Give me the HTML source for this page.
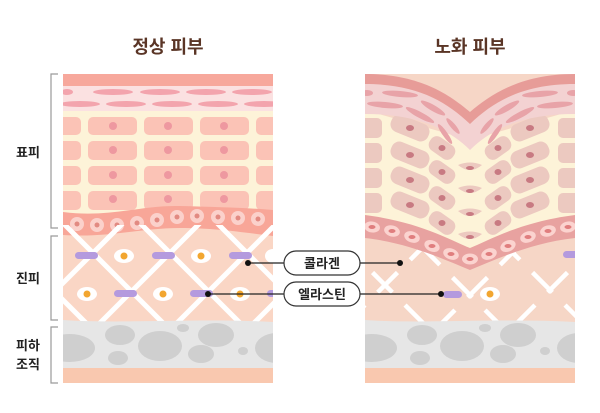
<!DOCTYPE html>
<html><head><meta charset="utf-8"><style>
html,body{margin:0;padding:0;background:#fff;width:600px;height:413px;overflow:hidden}
svg{display:block}
text{font-family:"Liberation Sans","Noto Sans CJK KR",sans-serif}
</style></head><body>
<svg width="600" height="413" viewBox="0 0 600 413" xmlns="http://www.w3.org/2000/svg">
<defs>
<clipPath id="cl"><rect x="63" y="74" width="210" height="309"/></clipPath>
<clipPath id="cr"><rect x="365" y="60" width="210" height="323"/></clipPath>
<clipPath id="dl"><rect x="63" y="225" width="210" height="97"/></clipPath>
<clipPath id="dr"><rect x="365" y="225" width="210" height="97"/></clipPath>
</defs>
<text x="168" y="53" font-size="18" font-weight="bold" fill="#5a3526" text-anchor="middle">정상 피부</text>
<text x="470" y="53" font-size="18" font-weight="bold" fill="#5a3526" text-anchor="middle">노화 피부</text>

<!-- brackets -->
<g stroke="#9a9a9a" stroke-width="1.2" fill="none">
<path d="M58 74 H51 V228 H58"/>
<path d="M58 236 H51 V320 H58"/>
<path d="M58 327 H51 V383 H58"/>
</g>
<g font-size="13" font-weight="bold" fill="#222">
<text x="16" y="157">표피</text>
<text x="16" y="283">진피</text>
<text x="16" y="350">피하</text>
<text x="16" y="369">조직</text>
</g>

<!-- LEFT PANEL -->
<g clip-path="url(#cl)">
<rect x="63" y="74" width="210" height="309" fill="#fad6c5"/>
<rect x="63" y="74" width="210" height="12" fill="#f7a89c"/>
<rect x="63" y="86" width="210" height="25" fill="#fbe1e1"/>
<g fill="#f3a4ad">
<ellipse cx="67" cy="92" rx="6" ry="3"/><ellipse cx="113" cy="92" rx="20" ry="3"/><ellipse cx="160" cy="92" rx="20" ry="3"/><ellipse cx="206" cy="92" rx="20" ry="3"/><ellipse cx="252" cy="92" rx="20" ry="3"/>
<ellipse cx="80" cy="104" rx="20" ry="3"/><ellipse cx="126" cy="104" rx="20" ry="3"/><ellipse cx="172" cy="104" rx="20" ry="3"/><ellipse cx="218" cy="104" rx="20" ry="3"/><ellipse cx="264" cy="104" rx="20" ry="3"/>
</g>
<rect x="63" y="111" width="210" height="115" fill="#fdf3d8"/>
<g fill="#fbc3b6">
<rect x="56" y="117" width="25" height="18" rx="5"/><rect x="88" y="117" width="49" height="18" rx="5"/><rect x="144" y="117" width="49" height="18" rx="5"/><rect x="200" y="117" width="49" height="18" rx="5"/><rect x="256" y="117" width="30" height="18" rx="5"/>
<rect x="56" y="141" width="25" height="19" rx="5"/><rect x="88" y="141" width="49" height="19" rx="5"/><rect x="144" y="141" width="49" height="19" rx="5"/><rect x="200" y="141" width="49" height="19" rx="5"/><rect x="256" y="141" width="30" height="19" rx="5"/>
<rect x="56" y="166" width="25" height="19" rx="5"/><rect x="88" y="166" width="49" height="19" rx="5"/><rect x="144" y="166" width="49" height="19" rx="5"/><rect x="200" y="166" width="49" height="19" rx="5"/><rect x="256" y="166" width="30" height="19" rx="5"/>
<rect x="56" y="191" width="25" height="19" rx="5"/><rect x="88" y="191" width="49" height="19" rx="5"/><rect x="144" y="191" width="49" height="19" rx="5"/><rect x="200" y="191" width="49" height="19" rx="5"/><rect x="256" y="191" width="30" height="19" rx="5"/>
</g>
<g fill="#ee98a0">
<circle cx="113" cy="126" r="4"/><circle cx="168" cy="126" r="4"/><circle cx="224" cy="126" r="4"/>
<circle cx="113" cy="150" r="4"/><circle cx="168" cy="150" r="4"/><circle cx="224" cy="150" r="4"/>
<circle cx="113" cy="175" r="4"/><circle cx="168" cy="175" r="4"/><circle cx="224" cy="175" r="4"/>
<circle cx="113" cy="199" r="4"/><circle cx="168" cy="199" r="4"/><circle cx="224" cy="199" r="4"/>
</g>
<!-- basal band -->
<path d="M63 212 C110 218 140 205 180 206 C220 207 250 208 273 210 L273 236 C240 232 215 228 180 228 C140 228 110 238 63 235 Z" fill="#f8a698"/>
<g fill="#fbd1cb">
<circle cx="77" cy="224" r="7"/><circle cx="97" cy="225" r="7"/><circle cx="117" cy="225" r="7"/><circle cx="137" cy="223" r="7"/><circle cx="157" cy="220" r="7"/><circle cx="177" cy="217" r="7"/><circle cx="197" cy="216" r="7"/><circle cx="218" cy="217" r="7"/><circle cx="238" cy="218" r="7"/><circle cx="258" cy="219" r="7"/>
</g>
<g fill="#e28a82">
<circle cx="77" cy="224" r="2.5"/><circle cx="97" cy="225" r="2.5"/><circle cx="117" cy="225" r="2.5"/><circle cx="137" cy="223" r="2.5"/><circle cx="157" cy="220" r="2.5"/><circle cx="177" cy="217" r="2.5"/><circle cx="197" cy="216" r="2.5"/><circle cx="218" cy="217" r="2.5"/><circle cx="238" cy="218" r="2.5"/><circle cx="258" cy="219" r="2.5"/>
</g>
<!-- dermis lattice -->
<g clip-path="url(#dl)" stroke="#fff" stroke-width="5">
<path d="M40 200 L190 350 M117 200 L267 350 M194 200 L344 350 M-37 200 L113 350"/>
<path d="M300 200 L150 350 M223 200 L73 350 M146 200 L-4 350 M377 200 L227 350"/>
</g>
<path d="M63 235 C110 238 140 228 180 228 C215 228 240 232 273 236 L273 240 L63 240 Z" fill="#f8a698" opacity="0"/>
<g fill="#b49ade">
<rect x="75" y="252" width="23" height="7" rx="3.5"/><rect x="152" y="252" width="23" height="7" rx="3.5"/><rect x="229" y="252" width="23" height="7" rx="3.5"/>
<rect x="114" y="290" width="23" height="7" rx="3.5"/><rect x="190" y="290" width="23" height="7" rx="3.5"/><rect x="267" y="290" width="23" height="7" rx="3.5"/>
</g>
<g fill="#fff">
<ellipse cx="124" cy="256" rx="10" ry="7"/><ellipse cx="201" cy="256" rx="10" ry="7"/><ellipse cx="273" cy="256" rx="8" ry="7"/>
<ellipse cx="87" cy="294" rx="10" ry="7"/><ellipse cx="163" cy="294" rx="10" ry="7"/><ellipse cx="240" cy="294" rx="10" ry="7"/>
</g>
<g fill="#f2a630">
<circle cx="124" cy="256" r="3.5"/><circle cx="201" cy="256" r="3.5"/>
<circle cx="87" cy="294" r="3.5"/><circle cx="163" cy="294" r="3.5"/><circle cx="240" cy="294" r="3.5"/>
</g>
<!-- subcut -->
<path d="M63 320 C120 324 200 318 273 322 L273 370 C200 366 120 372 63 370 Z" fill="#e6e6e6"/>
<g fill="#cfcfcf">
<ellipse cx="70" cy="348" rx="25" ry="14"/><ellipse cx="120" cy="335" rx="15" ry="10"/><ellipse cx="160" cy="346" rx="22" ry="15"/><ellipse cx="183" cy="328" rx="6" ry="4"/><ellipse cx="216" cy="335" rx="18" ry="12"/><ellipse cx="201" cy="354" rx="13" ry="9"/><ellipse cx="243" cy="351" rx="5" ry="4"/><ellipse cx="277" cy="348" rx="22" ry="15"/><ellipse cx="118" cy="358" rx="10" ry="7"/>
</g>
<rect x="63" y="368" width="210" height="15" fill="#f9c8af"/>
</g>

<!-- RIGHT PANEL -->
<g clip-path="url(#cr)">
<rect x="365" y="74" width="210" height="309" fill="#f6d6c6"/>
<!-- cream -->
<path d="M365 110 L470 140 L575 110 L575 230 L470 265 L365 230 Z" fill="#fdf3d8"/>
<!-- cells -->
<g fill="#ecc9c0">
<rect x="360" y="118" width="22" height="20" rx="5"/><rect x="360" y="143" width="22" height="20" rx="5"/><rect x="360" y="168" width="22" height="20" rx="5"/><rect x="360" y="193" width="22" height="20" rx="5"/>
<rect x="558" y="118" width="22" height="20" rx="5"/><rect x="558" y="143" width="22" height="20" rx="5"/><rect x="558" y="168" width="22" height="20" rx="5"/><rect x="558" y="193" width="22" height="20" rx="5"/>
<g transform="rotate(22 410 128)"><rect x="390" y="119" width="40" height="18" rx="8"/></g>
<g transform="rotate(22 410 155)"><rect x="390" y="146" width="40" height="18" rx="8"/></g>
<g transform="rotate(22 410 180)"><rect x="390" y="171" width="40" height="18" rx="8"/></g>
<g transform="rotate(22 410 205)"><rect x="390" y="196" width="40" height="18" rx="8"/></g>
<g transform="rotate(35 442 148)"><rect x="428" y="140" width="28" height="16" rx="7"/></g>
<g transform="rotate(35 442 172)"><rect x="428" y="164" width="28" height="16" rx="7"/></g>
<g transform="rotate(35 442 198)"><rect x="428" y="190" width="28" height="16" rx="7"/></g>
<g transform="rotate(35 442 223)"><rect x="428" y="215" width="28" height="16" rx="7"/></g>
<g transform="rotate(-22 530 128)"><rect x="510" y="119" width="40" height="18" rx="8"/></g>
<g transform="rotate(-22 530 155)"><rect x="510" y="146" width="40" height="18" rx="8"/></g>
<g transform="rotate(-22 530 180)"><rect x="510" y="171" width="40" height="18" rx="8"/></g>
<g transform="rotate(-22 530 205)"><rect x="510" y="196" width="40" height="18" rx="8"/></g>
<g transform="rotate(-35 498 148)"><rect x="484" y="140" width="28" height="16" rx="7"/></g>
<g transform="rotate(-35 498 172)"><rect x="484" y="164" width="28" height="16" rx="7"/></g>
<g transform="rotate(-35 498 198)"><rect x="484" y="190" width="28" height="16" rx="7"/></g>
<g transform="rotate(-35 498 223)"><rect x="484" y="215" width="28" height="16" rx="7"/></g>
<path d="M458 165 Q470 175 482 165 Q470 160 458 165Z"/><path d="M458 188 Q470 198 482 188 Q470 183 458 188Z"/><path d="M458 211 Q470 221 482 211 Q470 206 458 211Z"/><path d="M458 234 Q470 244 482 234 Q470 229 458 234Z"/>
</g>
<g fill="#c87a82">
<ellipse cx="410" cy="128" rx="4" ry="3"/><ellipse cx="410" cy="155" rx="4" ry="3"/><ellipse cx="410" cy="180" rx="4" ry="3"/><ellipse cx="410" cy="205" rx="4" ry="3"/>
<ellipse cx="442" cy="148" rx="3.5" ry="3"/><ellipse cx="442" cy="172" rx="3.5" ry="3"/><ellipse cx="442" cy="198" rx="3.5" ry="3"/><ellipse cx="442" cy="223" rx="3.5" ry="3"/>
<ellipse cx="530" cy="128" rx="4" ry="3"/><ellipse cx="530" cy="155" rx="4" ry="3"/><ellipse cx="530" cy="180" rx="4" ry="3"/><ellipse cx="530" cy="205" rx="4" ry="3"/>
<ellipse cx="498" cy="148" rx="3.5" ry="3"/><ellipse cx="498" cy="172" rx="3.5" ry="3"/><ellipse cx="498" cy="198" rx="3.5" ry="3"/><ellipse cx="498" cy="223" rx="3.5" ry="3"/>
<ellipse cx="470" cy="168" rx="4" ry="2"/><ellipse cx="470" cy="191" rx="4" ry="2"/><ellipse cx="470" cy="214" rx="4" ry="2"/><ellipse cx="470" cy="237" rx="4" ry="2"/>
</g>
<!-- top layers -->
<path d="M365 74 C420 74 450 95 470 112 C490 95 520 74 575 74 L575 114 C530 114 495 125 470 150 C445 125 410 114 365 114 Z" fill="#f3d2d2"/>
<path d="M365 74 C420 74 450 95 470 112 C490 95 520 74 575 74 L575 84 C525 84 495 100 470 124 C445 100 415 84 365 84 Z" fill="#e79c98"/>
<g fill="#e8a3a8">
<ellipse cx="367" cy="93" rx="6" ry="3"/><ellipse cx="400" cy="94" rx="18" ry="3" transform="rotate(5 400 94)"/><ellipse cx="433" cy="108" rx="14" ry="3" transform="rotate(30 433 108)"/><ellipse cx="453" cy="126" rx="10" ry="2.5" transform="rotate(50 453 126)"/>
<ellipse cx="385" cy="105" rx="18" ry="3" transform="rotate(5 385 105)"/><ellipse cx="420" cy="115" rx="16" ry="3" transform="rotate(28 420 115)"/><ellipse cx="445" cy="134" rx="12" ry="2.5" transform="rotate(55 445 134)"/>
<ellipse cx="573" cy="93" rx="6" ry="3"/><ellipse cx="540" cy="94" rx="18" ry="3" transform="rotate(-5 540 94)"/><ellipse cx="507" cy="108" rx="14" ry="3" transform="rotate(-30 507 108)"/><ellipse cx="487" cy="126" rx="10" ry="2.5" transform="rotate(-50 487 126)"/>
<ellipse cx="555" cy="105" rx="18" ry="3" transform="rotate(-5 555 105)"/><ellipse cx="520" cy="115" rx="16" ry="3" transform="rotate(-28 520 115)"/><ellipse cx="495" cy="134" rx="12" ry="2.5" transform="rotate(-55 495 134)"/>
</g>
<!-- dermis broken lattice -->
<g clip-path="url(#dr)" stroke="#fff" stroke-width="4.5" stroke-dasharray="28 18">
<path d="M340 240 L440 340 M420 245 L520 345 M500 240 L600 340"/>
<path d="M430 240 L330 340 M520 245 L420 345 M600 240 L500 340"/>
</g>
<!-- basal band -->
<path d="M365 215 C420 222 450 240 470 248 C490 240 520 222 575 215 L575 238 C530 243 495 260 470 270 C445 260 410 243 365 238 Z" fill="#e8a2a0"/>
<g fill="#fbd3cf">
<ellipse cx="372" cy="227" rx="8" ry="5.5" transform="rotate(10 372 227)"/><ellipse cx="392" cy="231" rx="8" ry="5.5" transform="rotate(15 392 231)"/><ellipse cx="412" cy="237" rx="8" ry="5.5" transform="rotate(20 412 237)"/><ellipse cx="432" cy="246" rx="8" ry="5.5" transform="rotate(25 432 246)"/><ellipse cx="451" cy="254" rx="8" ry="5.5" transform="rotate(20 451 254)"/>
<ellipse cx="470" cy="259" rx="8" ry="5.5"/>
<ellipse cx="489" cy="254" rx="8" ry="5.5" transform="rotate(-20 489 254)"/><ellipse cx="508" cy="246" rx="8" ry="5.5" transform="rotate(-25 508 246)"/><ellipse cx="528" cy="237" rx="8" ry="5.5" transform="rotate(-20 528 237)"/><ellipse cx="548" cy="231" rx="8" ry="5.5" transform="rotate(-15 548 231)"/><ellipse cx="568" cy="227" rx="8" ry="5.5" transform="rotate(-10 568 227)"/>
</g>
<g fill="#e07e7e">
<ellipse cx="372" cy="227" rx="3.5" ry="2"/><ellipse cx="392" cy="231" rx="3.5" ry="2"/><ellipse cx="412" cy="237" rx="3.5" ry="2"/><ellipse cx="432" cy="246" rx="3.5" ry="2"/><ellipse cx="451" cy="254" rx="3.5" ry="2"/><ellipse cx="470" cy="259" rx="3.5" ry="2"/><ellipse cx="489" cy="254" rx="3.5" ry="2"/><ellipse cx="508" cy="246" rx="3.5" ry="2"/><ellipse cx="528" cy="237" rx="3.5" ry="2"/><ellipse cx="548" cy="231" rx="3.5" ry="2"/><ellipse cx="568" cy="227" rx="3.5" ry="2"/>
</g>
<rect x="563" y="251" width="20" height="7" rx="3.5" fill="#b49ade"/>
<rect x="443" y="291" width="19" height="7" rx="3.5" fill="#b49ade"/>
<ellipse cx="490" cy="294" rx="10" ry="7" fill="#fff"/><circle cx="490" cy="294" r="3.5" fill="#f2a630"/>
<!-- subcut -->
<path d="M365 320 C420 324 500 318 575 322 L575 370 C500 366 420 372 365 370 Z" fill="#e6e6e6"/>
<g fill="#cfcfcf">
<ellipse cx="372" cy="348" rx="25" ry="14"/><ellipse cx="422" cy="335" rx="15" ry="10"/><ellipse cx="462" cy="346" rx="22" ry="15"/><ellipse cx="485" cy="328" rx="6" ry="4"/><ellipse cx="518" cy="335" rx="18" ry="12"/><ellipse cx="503" cy="354" rx="13" ry="9"/><ellipse cx="545" cy="351" rx="5" ry="4"/><ellipse cx="579" cy="348" rx="22" ry="15"/><ellipse cx="420" cy="358" rx="10" ry="7"/>
</g>
<rect x="365" y="368" width="210" height="15" fill="#f9c8af"/>
</g>

<!-- connectors -->
<g stroke="#222" stroke-width="1.2">
<line x1="248" y1="263" x2="284" y2="263"/><line x1="360" y1="263" x2="400" y2="263"/>
<line x1="208" y1="294" x2="284" y2="294"/><line x1="360" y1="294" x2="441" y2="294"/>
</g>
<g fill="#111">
<circle cx="248" cy="263" r="3"/><circle cx="400" cy="263" r="3"/><circle cx="208" cy="294" r="3"/><circle cx="441" cy="294" r="3"/>
</g>
<rect x="284" y="251" width="76" height="24" rx="12" fill="#fff" stroke="#333" stroke-width="1.2"/>
<rect x="284" y="282" width="76" height="24" rx="12" fill="#fff" stroke="#333" stroke-width="1.2"/>
<text x="322" y="268" font-size="13" font-weight="bold" fill="#222" text-anchor="middle">콜라겐</text>
<text x="322" y="299" font-size="13" font-weight="bold" fill="#222" text-anchor="middle">엘라스틴</text>
</svg>
</body></html>
